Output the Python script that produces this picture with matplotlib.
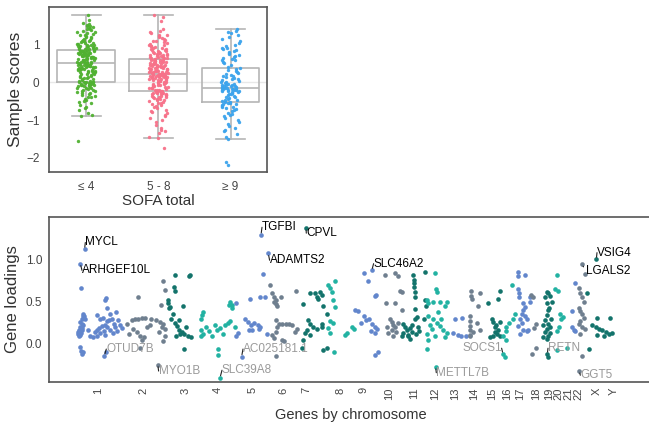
import numpy as np
import matplotlib.pyplot as plt

plt.rcParams['font.family'] = ['Liberation Sans', 'DejaVu Sans']

# ---- top panel: sample scores by SOFA group ----
sofa_groups = ['≤ 4', '5 - 8', '≥ 9']
sofa_colors = ['#50b131', '#f77189', '#3ba3ec']

scores_low = [
    -1.55, -0.88, -0.87, -0.8, -0.74, -0.69, -0.64, -0.6, -0.56, -0.52,
    -0.49, -0.46, -0.43, -0.4, -0.38, -0.35, -0.33, -0.31, -0.29, -0.27,
    -0.25, -0.23, -0.22, -0.2, -0.19, -0.17, -0.16, -0.15, -0.14, -0.12,
    -0.11, -0.1, -0.09, -0.08, -0.07, -0.06, -0.06, -0.05, -0.04, -0.04,
    -0.03, -0.03, -0.02, -0.02, -0.01, -0.01, 0.0, 0.0, 0.0, 0.0,
    0.01, 0.03, 0.04, 0.06, 0.08, 0.09, 0.11, 0.12, 0.14, 0.15,
    0.17, 0.18, 0.19, 0.21, 0.22, 0.23, 0.25, 0.26, 0.27, 0.28,
    0.29, 0.3, 0.31, 0.32, 0.33, 0.34, 0.35, 0.36, 0.36, 0.37,
    0.38, 0.39, 0.4, 0.4, 0.41, 0.42, 0.43, 0.43, 0.44, 0.45,
    0.45, 0.46, 0.46, 0.47, 0.47, 0.48, 0.48, 0.49, 0.49, 0.5,
    0.51, 0.51, 0.52, 0.53, 0.53, 0.54, 0.55, 0.55, 0.56, 0.57,
    0.58, 0.58, 0.59, 0.6, 0.61, 0.61, 0.62, 0.63, 0.64, 0.64,
    0.65, 0.66, 0.67, 0.67, 0.68, 0.69, 0.7, 0.7, 0.71, 0.72,
    0.73, 0.73, 0.74, 0.75, 0.76, 0.76, 0.77, 0.78, 0.78, 0.79,
    0.8, 0.8, 0.81, 0.81, 0.82, 0.82, 0.83, 0.83, 0.84, 0.84,
    0.85, 0.86, 0.87, 0.88, 0.89, 0.9, 0.91, 0.92, 0.93, 0.94,
    0.95, 0.96, 0.97, 0.98, 0.99, 1.0, 1.01, 1.02, 1.04, 1.05,
    1.06, 1.08, 1.09, 1.1, 1.12, 1.13, 1.15, 1.17, 1.19, 1.2,
    1.22, 1.24, 1.26, 1.28, 1.3, 1.32, 1.34, 1.36, 1.38, 1.4,
    1.42, 1.44, 1.46, 1.48, 1.5, 1.52, 1.55, 1.58, 1.65, 1.77]

scores_mid = [
    -1.75, -1.48, -1.45, -1.35, -1.3, -1.25, -1.2, -1.12, -1.05, -1.0,
    -0.95, -0.9, -0.86, -0.82, -0.78, -0.75, -0.72, -0.69, -0.66, -0.63,
    -0.6, -0.58, -0.56, -0.54, -0.52, -0.5, -0.48, -0.46, -0.45, -0.43,
    -0.42, -0.4, -0.39, -0.38, -0.36, -0.35, -0.34, -0.33, -0.32, -0.31,
    -0.3, -0.29, -0.28, -0.28, -0.27, -0.26, -0.26, -0.25, -0.25, -0.24,
    -0.23, -0.22, -0.21, -0.2, -0.19, -0.18, -0.16, -0.15, -0.14, -0.13,
    -0.12, -0.1, -0.09, -0.08, -0.07, -0.06, -0.05, -0.04, -0.03, -0.02,
    -0.01, 0.0, 0.01, 0.02, 0.03, 0.04, 0.05, 0.06, 0.07, 0.08,
    0.09, 0.1, 0.11, 0.12, 0.13, 0.14, 0.15, 0.15, 0.16, 0.17,
    0.17, 0.18, 0.18, 0.19, 0.19, 0.2, 0.2, 0.21, 0.21, 0.22,
    0.23, 0.23, 0.24, 0.25, 0.26, 0.26, 0.27, 0.28, 0.29, 0.3,
    0.31, 0.31, 0.32, 0.33, 0.34, 0.35, 0.35, 0.36, 0.37, 0.38,
    0.39, 0.4, 0.4, 0.41, 0.42, 0.43, 0.44, 0.44, 0.45, 0.46,
    0.47, 0.48, 0.48, 0.49, 0.5, 0.51, 0.52, 0.52, 0.53, 0.54,
    0.55, 0.56, 0.56, 0.57, 0.58, 0.59, 0.6, 0.6, 0.61, 0.62,
    0.63, 0.64, 0.65, 0.66, 0.67, 0.68, 0.69, 0.7, 0.71, 0.72,
    0.73, 0.74, 0.75, 0.76, 0.77, 0.78, 0.8, 0.81, 0.82, 0.84,
    0.85, 0.86, 0.88, 0.89, 0.9, 0.92, 0.93, 0.95, 0.97, 0.98,
    1.0, 1.02, 1.04, 1.06, 1.08, 1.1, 1.12, 1.15, 1.18, 1.2,
    1.22, 1.24, 1.26, 1.3, 1.32, 1.35, 1.4, 1.62, 1.72, 1.78]

scores_high = [
    -2.2, -2.1, -1.5, -1.45, -1.38, -1.3, -1.25, -1.2, -1.15, -1.1,
    -1.05, -1.0, -0.95, -0.9, -0.87, -0.84, -0.8, -0.77, -0.74, -0.71,
    -0.68, -0.66, -0.64, -0.62, -0.6, -0.58, -0.57, -0.55, -0.54, -0.53,
    -0.52, -0.5, -0.48, -0.46, -0.44, -0.42, -0.4, -0.38, -0.36, -0.34,
    -0.32, -0.3, -0.29, -0.27, -0.26, -0.25, -0.24, -0.23, -0.22, -0.21,
    -0.2, -0.19, -0.19, -0.18, -0.18, -0.17, -0.17, -0.16, -0.16, -0.15,
    -0.14, -0.13, -0.12, -0.11, -0.1, -0.09, -0.08, -0.07, -0.06, -0.05,
    -0.04, -0.02, 0.0, 0.02, 0.04, 0.06, 0.08, 0.1, 0.12, 0.14,
    0.16, 0.18, 0.2, 0.22, 0.25, 0.28, 0.31, 0.33, 0.36, 0.38,
    0.4, 0.45, 0.5, 0.55, 0.58, 0.6, 0.62, 0.65, 0.68, 0.7,
    0.72, 0.75, 0.78, 0.8, 0.82, 0.85, 0.87, 0.9, 0.92, 0.95,
    1.0, 1.05, 1.1, 1.15, 1.2, 1.25, 1.3, 1.33, 1.37, 1.4]

# ---- bottom panel: gene loadings, (position in gene order, loading) ----
chrom_names = ['1', '2', '3', '4', '5', '6', '7', '8', '9', '10', '11', '12',
               '13', '14', '15', '16', '17', '18', '19', '20', '21', '22', 'X', 'Y']
chrom_centres = [48.7, 93.7, 136, 168.3, 203.3, 233.7, 257.5, 291, 314.3, 339.3,
                 364.3, 386, 406, 424.3, 442.7, 457.7, 471, 487, 499.3, 509.3,
                 519.3, 529.3, 547.7, 564.3]

chr1 = [(31.7, 0.665), (57, 0.54), (56, 0.52), (57.7, 0.42), (34, 0.36), (35, 0.33),
        (33, 0.3), (31, 0.26), (32.5, 0.24), (30.5, 0.2), (29.5, 0.17), (29, 0.14),
        (28.5, 0.12), (30.5, 0.11), (29.5, 0.1), (31.5, 0.13), (32.5, 0.16), (33, 0.19),
        (34, 0.22), (36, 0.3), (33.5, 0.33), (47.7, 0.34), (51, 0.29), (54, 0.31),
        (57.5, 0.27), (56, 0.23), (52.5, 0.21), (50, 0.19), (48, 0.17), (54.5, 0.15),
        (51, 0.13), (56, 0.11), (48, 0.1), (58, 0.2), (61, 0.36), (63, 0.3),
        (64.5, 0.24), (67, 0.38), (69, 0.28), (66, 0.2), (68, 0.15), (64, 0.13),
        (61, 0.17), (71, 0.22), (73, 0.19), (60, 0.28), (39, 0.17), (41, 0.1),
        (44, 0.08), (46, 0.14), (31, -0.04), (32, -0.08), (33, -0.12), (34, -0.1),
        (57, -0.1)]
chr2 = [(89, 0.55), (78, 0.24), (83, 0.28), (86, 0.3), (89, 0.3), (93, 0.31), (96, 0.31),
        (84, 0.18), (88, 0.14), (91, 0.1), (95, 0.08), (98, 0.2), (101, 0.22), (80, 0.12),
        (93, 0.05), (91, -0.05), (114, 0.75), (115.7, 0.64), (112, 0.46), (102, 0.3),
        (107, 0.28), (110.7, 0.26), (114, 0.24), (112.7, 0.2), (115.7, 0.18),
        (115.7, 0.09), (110, 0.14), (114, 0.04)]
chr3 = [(125.7, 0.81), (139.3, 0.8), (140.7, 0.82), (125, 0.67), (125.7, 0.63),
        (118.3, 0.52), (118.3, 0.48), (121, 0.44), (119.7, 0.42), (134, 0.45),
        (126, 0.25), (127.7, 0.21), (129.3, 0.17), (131, 0.12), (132.7, 0.14),
        (134.3, 0.12), (126.7, 0.09), (139, 0.1), (135, -0.06), (122, 0.3), (124, 0.35),
        (130, 0.28), (137, 0.2), (142, 0.08)]
chr4 = [(153.5, 0.38), (152.7, 0.34), (151.7, 0.3), (151.7, 0.17), (153.3, 0.12),
        (151.7, 0.09), (157, 0.2), (165.7, 0.22), (167.3, 0.17), (170.7, 0.19),
        (175.7, 0.22), (179, 0.25), (180.7, 0.27), (179.3, 0.46), (182.7, 0.46),
        (169, -0.06), (169, -0.13), (180.5, 0.5), (183, 0.43), (160, 0.15), (163, 0.1),
        (174, 0.12), (186, 0.2)]
chr5 = [(214, 0.83), (201, 0.53), (211, 0.56), (216, 0.55), (186.3, 0.48), (199, 0.26),
        (201.7, 0.22), (203, 0.17), (200, 0.16), (205, 0.25), (209, 0.22), (211, 0.2),
        (210, 0.18), (218, 0.12), (187, 0.1), (189, 0.13), (196, 0.3)]
chr6 = [(220.7, 0.7), (223, 0.6), (224.7, 0.56), (226.3, 0.52), (224.7, 0.5),
        (226.3, 0.47), (228, 0.45), (232, 0.55), (247, 0.63), (226.3, 0.28),
        (229.7, 0.24), (233, 0.24), (236.3, 0.24), (239.7, 0.24), (243, 0.22),
        (227.7, 0.2), (226.3, 0.14), (222.7, 0.11), (224.3, 0.07), (232.7, 0.05),
        (245.7, 0.14), (247.3, 0.18), (227, -0.14), (235, 0.03)]
chr7 = [(261, 0.6), (266, 0.6), (271, 0.62), (267.7, 0.56), (269, 0.53), (254, 0.47),
        (259, 0.28), (260.7, 0.24), (264, 0.2), (267.3, 0.18), (257.3, 0.16),
        (255.7, 0.13), (260.7, 0.11), (254, 0.05), (272.3, 0.2), (252.3, -0.05),
        (274, -0.07), (277.3, -0.05), (272.7, 0.58), (274, 0.45), (277.7, 0.35),
        (272.7, 0.24)]
chr8 = [(285.7, 0.75), (279, 0.7), (280.7, 0.66), (282.3, 0.62), (284, 0.52),
        (285.7, 0.44), (280.7, 0.27), (284, 0.25), (279, 0.19), (280.7, 0.13),
        (284.3, -0.09), (296, 0.11), (297.7, 0.13), (302.7, 0.2), (304.3, 0.18)]
chr9 = [(314.3, 0.84), (319, 0.74), (326, 0.57), (327, 0.58), (306, 0.4), (309, 0.39),
        (317, 0.28), (320, 0.3), (323, 0.24), (325.7, 0.2), (327.3, 0.18), (322, 0.15),
        (325.7, 0.13), (326, -0.13), (329, -0.1), (315, 0.33), (312, 0.25)]
chr10 = [(335.7, 0.82), (345.7, 0.84), (349, 0.8), (350.7, 0.63), (352.3, 0.61),
         (337, 0.49), (345.7, 0.49), (352.3, 0.4), (340.7, 0.3), (342.3, 0.26),
         (344, 0.22), (345.7, 0.2), (342.3, 0.16), (344, 0.1), (339, 0.13), (347, 0.14),
         (337.5, 0.2), (349, 0.25)]
chr11 = [(364, 0.82), (364.3, 0.76), (364.3, 0.72), (364.3, 0.67), (365.3, 0.62),
         (366, 0.55), (366, 0.41), (375.7, 0.85), (354, 0.24), (355.7, 0.2),
         (357.3, 0.17), (359, 0.11), (360.7, 0.19), (362.3, 0.23), (365.7, 0.29),
         (367.3, 0.32), (369, 0.2), (352.3, 0.1), (354, 0.13), (359, 0.09), (361, 0.06),
         (363, 0.14), (367, 0.12), (370, 0.15), (375.7, 0.52), (377, 0.45), (375, 0.3)]
chr12 = [(385.7, 0.84), (386.3, 0.65), (387.3, 0.62), (377.3, 0.52), (379, 0.48),
         (384, 0.5), (390.7, 0.5), (397.3, 0.5), (395.7, 0.45), (379, 0.33), (384, 0.29),
         (387.3, 0.25), (390.7, 0.21), (394, 0.17), (397.3, 0.13), (382.3, 0.18),
         (385.7, 0.1), (395.7, 0.08), (377.3, 0.12), (379, 0.05), (377.3, -0.06),
         (392, 0.3), (389, 0.38), (381, 0.23)]
chr13 = [(406, 0.3), (412.7, 0.31), (409, 0.11), (411.7, 0.1), (404, 0.13), (417, 0.1)]
chr14 = [(421.7, 0.63), (421.7, 0.57), (422.3, 0.53), (431, 0.6), (429, 0.45),
         (420.7, 0.33), (420.7, 0.27), (420.7, 0.21), (420.7, 0.17), (420.7, 0.11),
         (420.7, 0.09), (427.3, 0.25), (430.7, 0.16), (424, 0.14)]
chr15 = [(439, 0.48), (449, 0.53), (450.7, 0.63), (442.3, 0.3), (444, 0.26),
         (445.7, 0.2), (449, 0.16), (447.3, 0.12), (444, 0.09), (450.7, 0.26),
         (445.7, 0.14), (450.7, 0.09), (440.7, 0.08), (447, 0.22)]
chr16 = [(462.7, 0.7), (457, 0.2), (457, 0.15), (454, 0.1), (457, 0.05), (455.3, -0.15),
         (466, 0.36), (460, 0.25), (464, 0.3)]
chr17 = [(469, 0.85), (469, 0.8), (475.7, 0.82), (469, 0.65), (469.7, 0.6), (470, 0.56),
         (474, 0.48), (475.7, 0.44), (474, 0.4), (472.3, 0.36), (475.7, 0.33),
         (470.7, 0.29), (472.3, 0.25), (469, 0.21), (474, 0.17), (477.3, 0.15),
         (479, 0.17), (480.7, 0.56), (480.7, 0.5), (478, 0.3), (471, 0.12)]
chr18 = [(482, 0.58), (484, 0.56), (486.3, 0.24), (484.7, 0.19), (487, -0.05),
         (482.3, -0.12)]
chr19 = [(497.3, 0.62), (495.7, 0.55), (497.3, 0.49), (499, 0.4), (497.3, 0.34),
         (495.7, 0.28), (499, 0.24), (497.3, 0.18), (495.7, 0.14), (499, 0.1),
         (497.3, 0.06), (500.7, 0.2), (494, 0.08), (498.7, 0.6), (501, 0.57),
         (503, 0.5), (500, 0.42), (502, 0.3), (501, 0.13), (494, 0.22), (499, -0.15)]
chr20 = [(507.7, 0.81), (506, 0.65), (509, 0.63), (511, 0.36), (514, 0.32), (512, 0.3),
         (507.7, -0.07), (517.7, -0.05), (510, 0.2), (508, 0.15)]
chr21 = [(526, 0.72), (522.7, 0.39), (523, 0.2), (524.7, 0.17), (526, 0.15)]
chr22 = [(535.3, 0.83), (529.3, 0.66), (531, 0.6), (532.7, 0.55), (534.3, 0.5),
         (529.3, 0.43), (531, 0.39), (532.7, 0.35), (534.3, 0.31), (531, 0.27),
         (529.3, 0.24), (532.7, 0.2), (536, 0.18), (531, 0.12), (532.7, -0.14)]
chrX = [(537.7, 0.6), (539.3, -0.06), (547.7, 0.31), (561, 0.31), (543, 0.22),
        (546.3, 0.2), (549.7, 0.18), (553, 0.16), (556.3, 0.14), (559.7, 0.12),
        (563, 0.13), (548, 0.11), (554.7, 0.1)]
chrY = []

# labelled genes
lab_gene = ['MYCL', 'ARHGEF10L', 'OTUD7B', 'MYO1B', 'SLC39A8', 'TGFBI', 'ADAMTS2',
            'AC025181.1', 'CPVL', 'SLC46A2', 'METTL7B', 'SOCS1', 'RETN', 'GGT5',
            'LGALS2', 'VSIG4']
lab_chrom = ['1', '1', '1', '2', '4', '5', '5', '5', '7', '9', '12', '16', '19', '22',
             '22', 'X']
lab_pos = [35.3, 31, 55, 108.5, 170.7, 211.7, 219, 192.3, 256.7, 322.5, 386.3, 453.7,
           498, 530, 532.7, 547]
lab_load = [1.12, 0.95, -0.14, -0.245, -0.4, 1.29, 1.07, -0.15, 1.37, 0.87, -0.27,
            -0.12, -0.12, -0.32, 0.94, 1.0]

# where the label texts sit (layout)
lab_text = [(36, 1.2), (32.7, 0.87), (57, -0.06), (109.3, -0.32), (172.7, -0.31),
            (212.7, 1.38), (220.3, 0.99), (193.7, -0.06), (257, 1.31), (324.3, 0.95),
            (387, -0.34), (412.7, -0.05), (498.7, -0.05), (531, -0.37), (537, 0.86),
            (547.7, 1.08)]

chrom_points = [chr1, chr2, chr3, chr4, chr5, chr6, chr7, chr8, chr9, chr10, chr11,
                chr12, chr13, chr14, chr15, chr16, chr17, chr18, chr19, chr20, chr21,
                chr22, chrX, chrY]
chrom_colors = ['#6286cc', '#6f7f8f', '#13736b', '#22b2a2']

text_dark = '#333333'
tick_col = '#444444'
spine_col = '#555555'

fig = plt.figure(figsize=(6.49, 4.28), dpi=100)

# ---------- top ----------
ax1 = fig.add_axes([49.3 / 649, 1 - 172.3 / 428, 217.4 / 649, 165.6 / 428])
ax1.axhline(0, color='#e8e8e8', lw=1.0, zorder=0)
box_col = '#b5b5b5'
ax1.boxplot([scores_low, scores_mid, scores_high], positions=[0, 1, 2], widths=0.8,
            showfliers=False,
            boxprops=dict(color=box_col, lw=1.2),
            whiskerprops=dict(color=box_col, lw=1.2),
            capprops=dict(color=box_col, lw=1.2),
            medianprops=dict(color=box_col, lw=1.2))
# horizontal jitter only, like a strip plot
rng = np.random.default_rng(3)
for i, vals in enumerate([scores_low, scores_mid, scores_high]):
    vals = np.asarray(vals)
    xj = i + rng.uniform(-0.13, 0.13, len(vals))
    ax1.scatter(xj, vals, s=6, color=sofa_colors[i], lw=0, zorder=3, alpha=0.95)
ax1.set_xlim(-0.51, 2.5)
ax1.set_ylim(-2.38, 2.0)
ax1.set_yticks([-2, -1, 0, 1])
ax1.set_yticklabels(['\u22122', '\u22121', '0', '1'])
ax1.set_xticks([0, 1, 2])
ax1.set_xticklabels(sofa_groups)
ax1.tick_params(length=0, labelsize=8.5, colors=tick_col)
ax1.tick_params(axis='y', pad=7)
ax1.tick_params(axis='x', pad=6)
ax1.set_ylabel('Sample scores', fontsize=12.5, color=text_dark, labelpad=2)
ax1.set_xlabel('SOFA total', fontsize=11, color=text_dark, labelpad=1)
for sp in ax1.spines.values():
    sp.set_color(spine_col)
    sp.set_linewidth(1.2)

# ---------- bottom ----------
ax2 = fig.add_axes([49.3 / 649, 1 - 381.7 / 428, 603 / 649, 165 / 428])
for i, pts in enumerate(chrom_points):
    if not pts:
        continue
    arr = np.array(pts)
    ax2.scatter(arr[:, 0], arr[:, 1], s=11, color=chrom_colors[i % 4], lw=0, zorder=3)
for g, c, x, y, (tx, ty) in zip(lab_gene, lab_chrom, lab_pos, lab_load, lab_text):
    col = chrom_colors[chrom_names.index(c) % 4]
    ax2.scatter([x], [y], s=11, color=col, lw=0, zorder=3)
    tcol = 'black' if y > 0 else '#9a9a9a'
    rel = (1, 0.5) if x > tx + 20 else (0, 0.5)
    ax2.annotate(g, xy=(x, y), xytext=(tx, ty), ha='left', va='center', fontsize=8.5,
                 color=tcol, zorder=4,
                 arrowprops=dict(arrowstyle='-', color='#222222', lw=0.8,
                                 shrinkA=0, shrinkB=1.5, relpos=rel))
ax2.set_xlim(0, 603)
ax2.set_ylim(-0.446, 1.505)
ax2.set_yticks([0.0, 0.5, 1.0])
ax2.set_yticklabels(['0.0', '0.5', '1.0'])
ax2.set_xticks(chrom_centres)
ax2.set_xticklabels(chrom_names, rotation=90)
ax2.tick_params(length=0, labelsize=8.5, colors=tick_col)
ax2.tick_params(axis='x', labelsize=8, pad=4)
ax2.tick_params(axis='y', pad=5)
ax2.set_ylabel('Gene loadings', fontsize=12, color=text_dark, labelpad=4)
ax2.set_xlabel('Genes by chromosome', fontsize=10.5, color=text_dark, labelpad=6)
for sp in ax2.spines.values():
    sp.set_color(spine_col)
    sp.set_linewidth(1.2)

fig.savefig('out.png', dpi=100)
